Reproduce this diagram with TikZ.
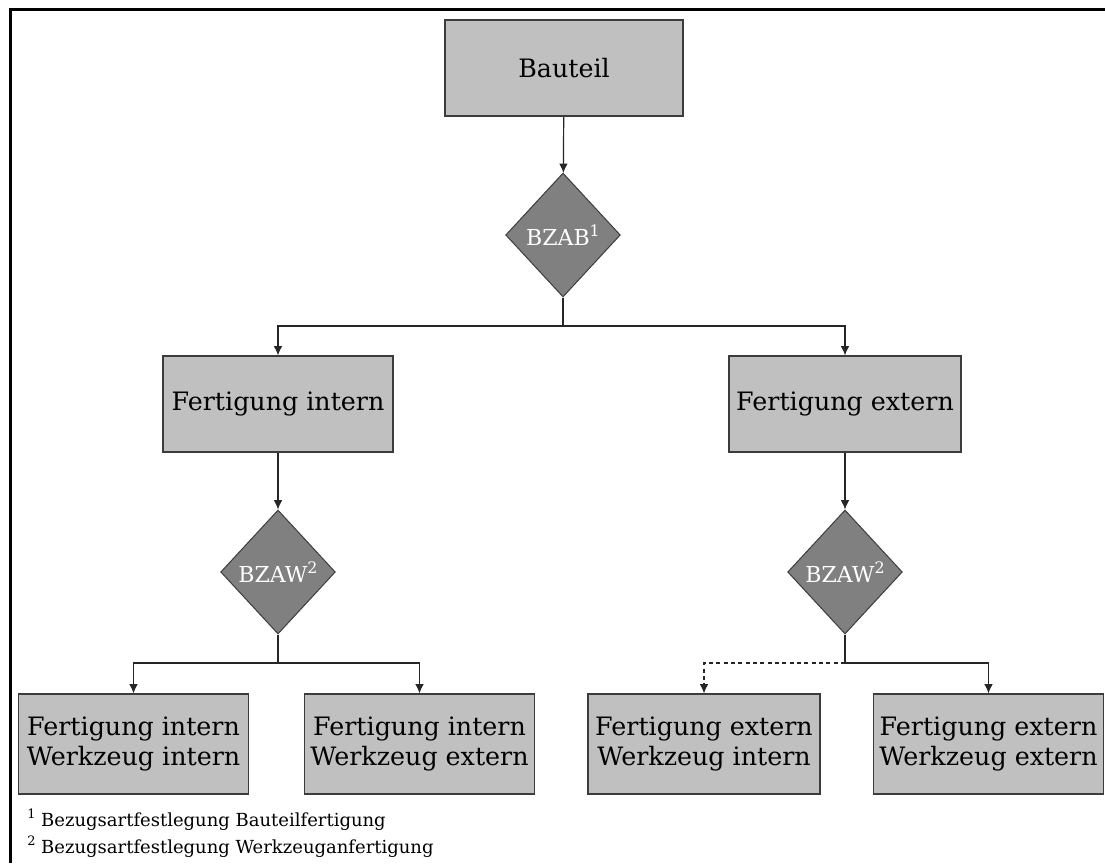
\documentclass[tikz,border=0pt]{standalone}
\usepackage{fontspec}
\setmainfont{DejaVu Serif}
\usetikzlibrary{shapes.geometric,arrows.meta}
\definecolor{boxfill}{RGB}{192,192,192}
\definecolor{decfill}{RGB}{128,128,128}
\definecolor{edgegray}{RGB}{60,60,60}
% raised reference mark at 70% of the surrounding size
\newcommand{\refmark}[1]{\raisebox{0.42em}{\scalebox{0.72}{#1}}}
\begin{document}
\begin{tikzpicture}[x=0.75pt,y=-0.75pt,
  stepbox/.style={rectangle, draw=edgegray, fill=boxfill, line width=0.9pt,
    inner sep=0pt, align=center, font=\fontsize{19}{23}\selectfont},
  decision/.style={diamond, draw=edgegray, fill=decfill, line width=0.75pt,
    inner sep=0pt, minimum width=86pt, minimum height=93pt, text=white,
    font=\fontsize{16.5}{18}\selectfont},
  flow/.style={draw=black!85, line width=0.9pt, -{Latex[length=7pt,width=6.5pt]}},
  link/.style={draw=black!85, line width=0.9pt},
  note/.style={anchor=base west, inner sep=0pt, font=\fontsize{13.5}{16}\selectfont}]

\useasboundingbox (0,0) rectangle (1105,863);

% frame (top and left edges)
\draw[line width=2.25pt] (10,863) -- (10,10) -- (1105,10);

% boxes
\node[stepbox, minimum width=178.5pt, minimum height=72pt] (bauteil) at (564,68) {Bauteil};
\node[decision] (bzab) at (563,235) {BZAB\refmark{1}};
\node[stepbox, minimum width=172.5pt, minimum height=72pt] (fi) at (278,404) {Fertigung intern};
\node[stepbox, minimum width=174pt, minimum height=72pt] (fe) at (845,404) {Fertigung extern};
\node[decision] (bzaw1) at (278,572) {BZAW\refmark{2}};
\node[decision] (bzaw2) at (845,572) {BZAW\refmark{2}};
\node[stepbox, minimum width=173pt, minimum height=75pt] (ii) at (133.5,744) {Fertigung intern\\Werkzeug intern};
\node[stepbox, minimum width=173pt, minimum height=75pt] (ie) at (419.5,744) {Fertigung intern\\Werkzeug extern};
\node[stepbox, minimum width=174pt, minimum height=75pt] (ei) at (704,744) {Fertigung extern\\Werkzeug intern};
\node[stepbox, minimum width=172pt, minimum height=75pt] (ee) at (988.5,744) {Fertigung extern\\Werkzeug extern};

% branch points
\coordinate (s1) at (563,326);
\coordinate (s2) at (278,663);
\coordinate (s3) at (845,663);

% connectors
\draw[flow] (bauteil) -- (bzab);
\draw[link] (bzab.south) -- (s1);
\draw[flow] (s1) -| (fi.north);
\draw[flow] (s1) -| (fe.north);
\draw[flow] (fi) -- (bzaw1);
\draw[flow] (fe) -- (bzaw2);
\draw[link] (bzaw1.south) -- (s2);
\draw[flow] (s2) -| (ii.north);
\draw[flow] (s2) -| (ie.north);
\draw[link] (bzaw2.south) -- (s3);
\draw[flow, dash pattern=on 3pt off 2.5pt] (s3) -| (ei.north);
\draw[flow] (s3) -| (ee.north);

% footnotes
\node[note] (n1) at (27,826) {\refmark{1} Bezugsartfestlegung Bauteilfertigung};
\node[note] (n2) at (27,853) {\refmark{2} Bezugsartfestlegung Werkzeuganfertigung};
\end{tikzpicture}
\end{document}
